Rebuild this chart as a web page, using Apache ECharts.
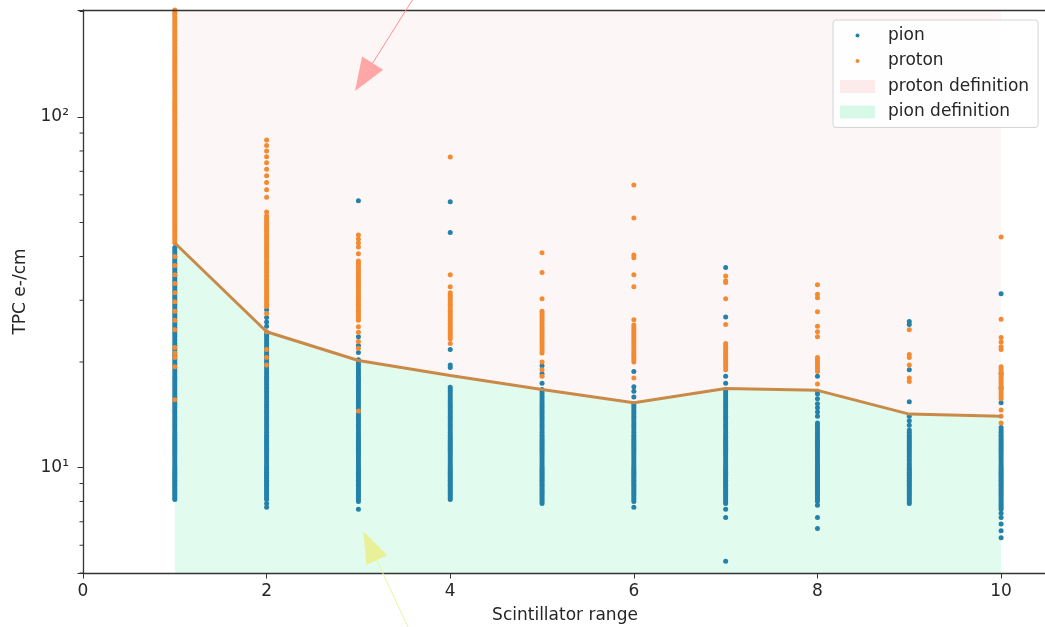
<!DOCTYPE html>
<html><head><meta charset="utf-8">
<script src="https://cdn.jsdelivr.net/npm/echarts@6/dist/echarts.min.js"></script>
<style>html,body{margin:0;padding:0;background:#fff}#c{width:1045px;height:627px}</style>
</head><body><div id="c"></div>
<script>
// ---- data ----
const ranges = [1,2,3,4,5,6,7,8,9,10];
const boundary = [43.7,24.4,20.2,18.3,16.7,15.3,16.8,16.6,14.2,14.0];

const pion1 = [8.1,8.2,8.3,8.4,8.5,8.6,8.7,8.8,8.9,9.0,9.1,9.2,9.3,9.4,9.5,9.6,9.7,9.8,9.9,10.0,10.15,10.3,10.45,10.6,10.75,10.9,11.05,11.2,11.35,11.5,11.65,11.8,11.95,12.1,12.25,12.4,12.6,12.8,13.0,13.2,13.4,13.6,13.8,14.0,14.2,14.4,14.6,14.8,15.0,15.2,15.45,15.7,15.95,16.2,16.45,16.7,16.95,17.2,17.45,17.7,17.95,18.2,18.5,18.8,19.1,19.4,19.7,20.0,20.3,20.6,20.9,21.2,21.55,21.9,22.25,22.6,22.95,23.3,23.65,24.0,24.35,24.7,25.1,25.5,25.9,26.3,26.7,27.1,27.5,27.9,28.35,28.8,29.25,29.7,30.15,30.6,31.05,31.5,32.0,32.5,33.0,33.5,34.0,34.5,35.0,35.5,36.05,36.6,37.15,37.7,38.25,38.8,39.4,40.0,40.6,41.2,41.8,42.4];
const pion2 = [7.7,7.9,8.1,8.2,8.3,8.4,8.5,8.6,8.7,8.8,8.9,9.0,9.1,9.2,9.3,9.4,9.5,9.6,9.7,9.8,9.9,10.0,10.15,10.3,10.45,10.6,10.75,10.9,11.05,11.2,11.35,11.5,11.65,11.8,11.95,12.1,12.25,12.4,12.6,12.8,13.0,13.2,13.4,13.6,13.8,14.0,14.2,14.4,14.6,14.8,15.0,15.2,15.45,15.7,15.95,16.2,16.45,16.7,16.95,17.2,17.45,17.7,17.95,18.2,18.5,18.8,19.1,19.4,19.7,20.0,20.3,20.6,20.9,21.2,21.55,21.9,22.25,22.6,22.95,23.3,23.65,24.0,24.35,25.3,26.0,26.8,28.2];
const pion3 = [7.6,8.0,8.1,8.2,8.3,8.4,8.5,8.6,8.7,8.8,8.9,9.0,9.1,9.2,9.3,9.4,9.5,9.6,9.7,9.8,9.9,10.0,10.15,10.3,10.45,10.6,10.75,10.9,11.05,11.2,11.35,11.5,11.65,11.8,11.95,12.1,12.25,12.4,12.6,12.8,13.0,13.2,13.4,13.6,13.8,14.0,14.2,14.4,14.6,14.8,15.0,15.2,15.45,15.7,15.95,16.2,16.45,16.7,16.95,17.2,17.45,17.7,17.95,18.2,18.5,18.8,19.1,19.4,19.7,20.0,20.3,21.3,22.3,23.6,57.7];
const pion4 = [8.1,8.2,8.3,8.4,8.5,8.6,8.7,8.8,8.9,9.0,9.1,9.2,9.3,9.4,9.5,9.6,9.7,9.8,9.9,10.0,10.15,10.3,10.45,10.6,10.75,10.9,11.05,11.2,11.35,11.5,11.65,11.8,11.95,12.1,12.25,12.4,12.6,12.8,13.0,13.2,13.4,13.6,13.8,14.0,14.2,14.4,14.6,14.8,15.0,15.2,15.45,15.7,15.95,16.2,16.45,16.7,16.95,19.3,19.6,21.7,46.8,57.3];
const pion5 = [7.9,8.0,8.1,8.2,8.3,8.4,8.5,8.6,8.7,8.8,8.9,9.0,9.1,9.2,9.3,9.4,9.5,9.6,9.7,9.8,9.9,10.0,10.15,10.3,10.45,10.6,10.75,10.9,11.05,11.2,11.35,11.5,11.65,11.8,11.95,12.1,12.25,12.4,12.6,12.8,13.0,13.2,13.4,13.6,13.8,14.0,14.2,14.4,14.6,14.8,15.0,15.2,15.45,15.7,15.95,16.2,16.45,16.7,17.4,18.5,19.5];
const pion6 = [7.7,8.0,8.1,8.2,8.3,8.4,8.5,8.6,8.7,8.8,8.9,9.0,9.1,9.2,9.3,9.4,9.5,9.6,9.7,9.8,9.9,10.0,10.15,10.3,10.45,10.6,10.75,10.9,11.05,11.2,11.35,11.5,11.65,11.8,11.95,12.1,12.25,12.4,12.6,12.8,13.0,13.2,13.4,13.6,13.8,14.0,14.2,14.4,14.6,14.8,15.0,15.2,15.9,16.5,17.0,18.8];
const pion7 = [5.4,7.2,7.6,7.9,8.0,8.1,8.2,8.3,8.4,8.5,8.6,8.7,8.8,8.9,9.0,9.1,9.2,9.3,9.4,9.5,9.6,9.7,9.8,9.9,10.0,10.15,10.3,10.45,10.6,10.75,10.9,11.05,11.2,11.35,11.5,11.65,11.8,11.95,12.1,12.25,12.4,12.6,12.8,13.0,13.2,13.4,13.6,13.8,14.0,14.2,14.4,14.6,14.8,15.0,15.2,15.45,15.7,15.95,16.2,16.45,16.7,17.4,18.2,26.9,37.2];
const pion8 = [6.7,7.2,7.8,8.0,8.1,8.2,8.3,8.4,8.5,8.6,8.7,8.8,8.9,9.0,9.1,9.2,9.3,9.4,9.5,9.6,9.7,9.8,9.9,10.0,10.15,10.3,10.45,10.6,10.75,10.9,11.05,11.2,11.35,11.5,11.65,11.8,11.95,12.1,12.25,12.4,12.6,12.8,13.0,13.2,13.4,14.0,14.4,14.8,15.2,15.7,16.2,16.5,18.2];
const pion9 = [7.9,8.0,8.1,8.2,8.3,8.4,8.5,8.6,8.7,8.8,8.9,9.0,9.1,9.2,9.3,9.4,9.5,9.6,9.7,9.8,9.9,10.0,10.15,10.3,10.45,10.6,10.75,10.9,11.05,11.2,11.35,11.5,11.65,11.8,11.95,12.1,12.25,12.4,12.6,12.8,13.2,13.6,14.0,15.4,19.0,25.6,26.1];
const pion10 = [6.3,6.6,6.9,7.2,7.4,7.6,7.7,7.8,7.9,8.0,8.1,8.2,8.3,8.4,8.5,8.6,8.7,8.8,8.9,9.0,9.1,9.2,9.3,9.4,9.5,9.6,9.7,9.8,9.9,10.0,10.15,10.3,10.45,10.6,10.75,10.9,11.05,11.2,11.35,11.5,11.65,11.8,11.95,12.1,12.25,12.4,12.6,12.8,13.0,15.3,16.9,18.5,31.3];

const proton1 = [15.6,19.4,20.6,21.2,22.0,24.7,26.3,27.9,29.7,31.5,33.5,35.5,37.7,40.0,43.7,44.35,45.0,45.7,46.4,47.1,47.8,48.5,49.2,49.95,50.7,51.45,52.2,53.0,53.8,54.6,55.4,56.2,57.0,57.85,58.7,59.6,60.5,61.4,62.3,63.25,64.2,65.15,66.1,67.1,68.1,69.1,70.1,71.15,72.2,73.3,74.4,75.5,76.6,77.75,78.9,80.1,81.3,82.5,83.7,84.95,86.2,87.5,88.8,90.15,91.5,92.85,94.2,95.6,97.0,98.5,100,101.5,103,104.5,106,107.5,109,110.5,112,114,116,118,120,122,124,126,128,130,132,134,136,138,140,142,144,146,148,150.5,153,155.5,158,160.5,163,165.5,168,170.5,173,175.5,178,181,184,187,190,193,196,199,202];
const proton2 = [19.6,20.6,21.7,24.4,27.5,28.8,29.25,29.7,30.15,30.6,31.05,31.5,32.0,32.5,33.0,33.5,34.0,34.5,35.0,35.5,36.05,36.6,37.15,37.7,38.25,38.8,39.4,40.0,40.6,41.2,41.8,42.4,43.05,43.7,44.35,45.0,45.7,46.4,47.1,47.8,48.5,49.2,49.95,50.7,51.45,52.2,53.6,59,62,65,68,71,74,77,80,83,86];
const proton3 = [14.5,21.9,22.9,24.3,25.2,26.3,26.7,27.1,27.5,27.9,28.35,28.8,29.25,29.7,30.15,30.6,31.05,31.5,32.0,32.5,33.0,33.5,34.0,34.5,35.0,35.5,36.05,36.6,37.15,37.7,38.25,38.8,40.7,42.6,43.7,44.9,46.1];
const proton4 = [22.6,23.3,23.65,24.0,24.35,24.7,25.1,25.5,25.9,26.3,26.7,27.1,27.5,27.9,28.35,28.8,29.25,29.7,30.15,30.6,31.05,31.5,32.8,35.5,76.9];
const proton5 = [18.2,19.0,20.0,21.2,21.55,21.9,22.25,22.6,22.95,23.3,23.65,24.0,24.35,24.7,25.1,25.5,25.9,26.3,26.7,27.1,27.5,27.9,30.3,36.0,41.0];
const proton6 = [18.0,20.0,20.3,20.6,20.9,21.2,21.55,21.9,22.25,22.6,22.95,23.3,23.65,24.0,24.35,24.7,25.1,25.5,26.4,32.8,35.5,39.7,40.4,51.5,64.0];
const proton7 = [19.0,19.4,19.7,20.0,20.3,20.6,20.9,21.2,21.55,21.9,22.25,22.6,25.6,30.3,33.7,34.1,35.2];
const proton8 = [17.3,18.8,19.1,19.4,19.7,20.0,20.3,20.6,23.6,24.4,25.3,27.8,30.5,31.2,33.2];
const proton9 = [17.6,18.0,19.6,20.6,21.0,24.7];
const proton10 = [13.4,14.0,14.6,15.7,15.95,16.2,16.45,16.7,16.95,17.2,17.45,17.7,17.95,18.2,18.5,18.8,19.1,19.4,21.7,22.1,22.8,23.5,26.5,45.5];

const pionCols = [pion1,pion2,pion3,pion4,pion5,pion6,pion7,pion8,pion9,pion10];
const protonCols = [proton1,proton2,proton3,proton4,proton5,proton6,proton7,proton8,proton9,proton10];

const xTickLabels = [0,2,4,6,8,10];
const yMajorTicks = [10,100];
const yMinorTicks = [5,6,7,8,9,20,30,40,50,60,70,80,90,200];
const seriesNames = ['pion','proton','proton definition','pion definition'];

// annotation arrows (data coordinates): [tail, tip]
const arrowRed = [[4.0,320],[2.963,118.6]];
const arrowYellow = [[3.9,2.2],[3.053,6.58]];

// ---- styles ----
const FONT = 'DejaVu Sans';
const TXT = '#262626';
const AX = '#333333';
const BLUE = '#2481aa';
const ORANGE = '#f28b32';
const PINK = '#fdf6f6';
const GREEN = '#e1fcef';

const pionData = [];
pionCols.forEach((col,i)=>col.forEach(v=>pionData.push([ranges[i],v])));
const protonData = [];
protonCols.forEach((col,i)=>col.forEach(v=>protonData.push([ranges[i],v])));
const boundaryData = ranges.map((x,i)=>[x,boundary[i]]);

const dotIcon = 'path://M0,0M43,13M15.5,6.5a2,2 0 1,0 4,0a2,2 0 1,0 -4,0';
const rectIcon = 'path://M0,0L35,0L35,13L0,13ZM43,13';

const chart = echarts.init(document.getElementById('c'), null, {renderer:'canvas'});
const option = {
  animation:false,
  backgroundColor:'#ffffff',
  textStyle:{fontFamily:FONT},
  grid:{left:83, top:10, width:964, height:563, containLabel:false, outerBoundsMode:'none'},
  xAxis:[{
    type:'value', min:0, max:10.5, interval:2, z:10,
    axisLine:{show:true, lineStyle:{color:AX, width:1.3}},
    axisTick:{show:true, length:5.5, lineStyle:{color:AX, width:1}},
    axisLabel:{fontSize:17, color:TXT, margin:10, fontFamily:FONT,
      formatter:v=> xTickLabels.indexOf(v) >= 0 ? String(v) : ''},
    splitLine:{show:false},
    name:'Scintillator range', nameLocation:'middle', nameGap:34,
    nameTextStyle:{fontSize:17, color:TXT, fontFamily:FONT}
  },{
    type:'value', min:0, max:10.5, position:'top', z:10,
    axisLine:{show:true, onZero:false, lineStyle:{color:AX, width:1.3}},
    axisTick:{show:false}, axisLabel:{show:false}, splitLine:{show:false}
  }],
  yAxis:[{
    type:'log', logBase:10, min:5, max:202, z:10,
    axisLine:{show:true, lineStyle:{color:AX, width:1.3}},
    axisTick:{show:true, length:5.5, lineStyle:{color:AX, width:1}},
    axisLabel:{fontSize:17, color:TXT, margin:14, fontFamily:FONT,
      formatter:v=> Math.abs(v-yMajorTicks[0])<1e-6 ? '10\u00b9' : (Math.abs(v-yMajorTicks[1])<1e-6 ? '10\u00b2' : '')},
    splitLine:{show:false}, minorSplitLine:{show:false},
    name:'TPC e-/cm', nameLocation:'middle', nameGap:54,
    nameTextStyle:{fontSize:17, color:TXT, fontFamily:FONT}
  }],
  legend:{
    orient:'vertical', left:833, top:20,
    padding:[7,9,7,7],
    itemWidth:43, itemHeight:13, itemGap:8.5,
    backgroundColor:'rgba(255,255,255,0.85)', borderColor:'#d4d4d4', borderWidth:1, borderRadius:3,
    textStyle:{fontSize:17, color:TXT, fontFamily:FONT},
    selectedMode:false,
    data:[
      {name:seriesNames[0], icon:dotIcon, itemStyle:{color:BLUE}},
      {name:seriesNames[1], icon:dotIcon, itemStyle:{color:ORANGE}},
      {name:seriesNames[2], icon:rectIcon, itemStyle:{color:'#fdeaea'}},
      {name:seriesNames[3], icon:rectIcon, itemStyle:{color:'#d8f9e8'}}
    ]
  },
  series:[
    {name:seriesNames[2], type:'line', data:boundaryData, symbol:'none', silent:true, z:1,
      lineStyle:{width:0, color:PINK}, itemStyle:{color:PINK},
      areaStyle:{color:PINK, opacity:1, origin:'end'}},
    {name:seriesNames[3], type:'line', data:boundaryData, symbol:'none', silent:true, z:1,
      lineStyle:{width:0, color:GREEN}, itemStyle:{color:GREEN},
      areaStyle:{color:GREEN, opacity:1, origin:'start'}},
    {name:seriesNames[0], type:'scatter', data:pionData, symbol:'circle', symbolSize:5, z:3, silent:true,
      itemStyle:{color:BLUE, opacity:1}},
    {name:seriesNames[1], type:'scatter', data:protonData, symbol:'circle', symbolSize:5, z:4, silent:true,
      itemStyle:{color:ORANGE, opacity:1}},
    {name:'boundary', type:'line', data:boundaryData, symbol:'none', silent:true, z:5,
      lineStyle:{color:'#c98a48', width:3}}
  ]
};
chart.setOption(option);

// minor ticks and annotation arrows, placed through the chart's own scales
const toPx = p => chart.convertToPixel({xAxisIndex:0, yAxisIndex:0}, p);
const g = [];
yMinorTicks.forEach(v=>{
  const p = toPx([0,v]);
  g.push({type:'line', silent:true, z:50, shape:{x1:p[0]-3.5, y1:p[1], x2:p[0], y2:p[1]}, style:{stroke:AX, lineWidth:1}});
});
function arrow(pts, lineColor, headColor, headLen, headW){
  const a = toPx(pts[0]), b = toPx(pts[1]);
  const dx=b[0]-a[0], dy=b[1]-a[1], L=Math.hypot(dx,dy), ux=dx/L, uy=dy/L;
  const bx=b[0]-ux*headLen, by=b[1]-uy*headLen, px=-uy, py=ux;
  g.push({type:'line', silent:true, z:60, shape:{x1:a[0], y1:a[1], x2:bx, y2:by}, style:{stroke:lineColor, lineWidth:1}});
  g.push({type:'polygon', silent:true, z:60, shape:{points:[[b[0],b[1]],[bx+px*headW/2, by+py*headW/2],[bx-px*headW/2, by-py*headW/2]]}, style:{fill:headColor}});
}
arrow(arrowRed, '#ff8f8f', '#ffa6a6', 33, 25);
arrow(arrowYellow, '#edf39c', '#e8f198', 32, 23);
chart.setOption({graphic:g});
</script>
</body></html>
